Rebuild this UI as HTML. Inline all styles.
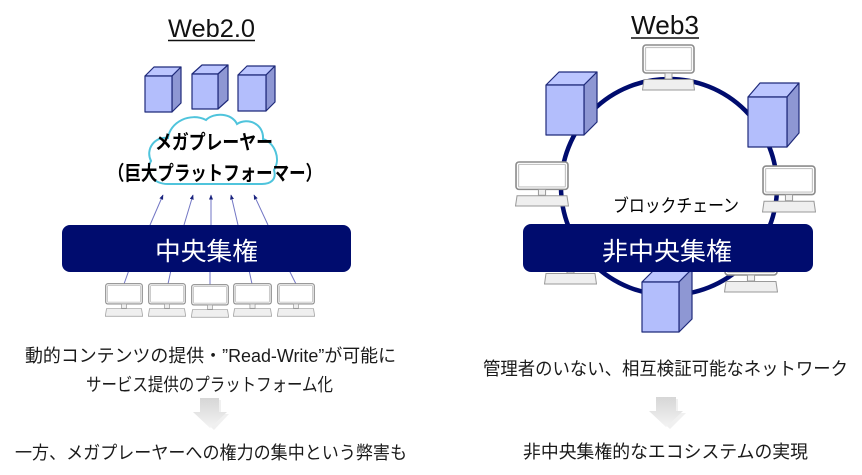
<!DOCTYPE html>
<html><head><meta charset="utf-8"><style>
html,body{margin:0;padding:0;background:#fff;}
svg{display:block;}
text{font-family:"Liberation Sans","Noto Sans CJK JP",sans-serif;}
.jp{font-family:"Liberation Sans","Noto Sans CJK JP",sans-serif;fill:#1a1a1a;}
</style></head><body>
<svg width="862" height="475" viewBox="0 0 862 475" xmlns="http://www.w3.org/2000/svg">
<defs>
<symbol id="mon" viewBox="0 0 53 47" preserveAspectRatio="none">
<rect x="1" y="1" width="51" height="28" rx="3" fill="#fff" stroke="#8c8c8c" stroke-width="1.6"/>
<rect x="3.5" y="3.5" width="46" height="23" rx="1" fill="#fff" stroke="#c4c4c4" stroke-width="1.2"/>
<rect x="23" y="29" width="7" height="6" fill="#f0f0f0" stroke="#9a9a9a" stroke-width="1"/>
<polygon points="2,35.5 51,35.5 52.5,46 0.5,46" fill="#efefef" stroke="#9a9a9a" stroke-width="1"/>
</symbol>
<marker id="ah" viewBox="0 0 10 10" refX="9" refY="5" markerWidth="5" markerHeight="5" orient="auto">
<path d="M0,1 L10,5 L0,9 Z" fill="#1a237e"/>
</marker>
<linearGradient id="ga" x1="0" y1="0" x2="0" y2="1">
<stop offset="0" stop-color="#d6d6d6"/><stop offset="1" stop-color="#f3f3f3"/>
</linearGradient>
</defs>

<!-- ========== LEFT: Web2.0 ========== -->
<text x="168" y="37" font-size="25" textLength="87" lengthAdjust="spacingAndGlyphs" fill="#111">Web2.0</text>
<line x1="168" y1="40.5" x2="255" y2="40.5" stroke="#111" stroke-width="1.5"/>

<!-- servers -->
<g stroke="#1f2a7a" stroke-width="1.2" stroke-linejoin="round">
<polygon points="145,76 154,67 181,67 172,76" fill="#bcc6ff"/>
<polygon points="172,76 181,67 181,103 172,112" fill="#8e97d3"/>
<rect x="145" y="76" width="27" height="36" fill="#b3befc"/>
<polygon points="192,74 202,65 228,65 218,74" fill="#bcc6ff"/>
<polygon points="218,74 228,65 228,100 218,109" fill="#8e97d3"/>
<rect x="192" y="74" width="26" height="35" fill="#b3befc"/>
<polygon points="238,75 247,66 275,66 266,75" fill="#bcc6ff"/>
<polygon points="266,75 275,66 275,102 266,111" fill="#8e97d3"/>
<rect x="238" y="75" width="28" height="36" fill="#b3befc"/>
</g>

<!-- cloud -->
<path d="M168 184 C152 184 145 171 151 161 C145 149 155 136 168 138 C170 122 190 112 206 120 C214 112 232 113 237 124 C248 117 264 124 263 139 C275 143 281 159 274 170 C277 180 270 184 262 184 Z" fill="#fff" stroke="#4fc4dc" stroke-width="2"/>
<text x="155" y="149" font-size="20" font-weight="bold" textLength="118" lengthAdjust="spacingAndGlyphs" fill="#000">メガプレーヤー</text>
<text x="108" y="180" font-size="20" font-weight="bold" textLength="214" lengthAdjust="spacingAndGlyphs" fill="#000">（巨大プラットフォーマー）</text>

<!-- arrows up -->
<g stroke="#7276c4" stroke-width="1" marker-end="url(#ah)">
<line x1="150" y1="225" x2="163" y2="195"/>
<line x1="184" y1="225" x2="193" y2="195"/>
<line x1="211" y1="225" x2="211" y2="195"/>
<line x1="238" y1="225" x2="231" y2="195"/>
<line x1="268" y1="225" x2="254" y2="195"/>
</g>

<!-- lines to monitors -->
<g stroke="#7276c4" stroke-width="1">
<line x1="129" y1="270" x2="124" y2="284"/>
<line x1="171" y1="270" x2="168" y2="284"/>
<line x1="210" y1="270" x2="210" y2="285"/>
<line x1="249" y1="270" x2="252" y2="284"/>
<line x1="289" y1="270" x2="296" y2="284"/>
</g>

<!-- bar -->
<rect x="62" y="225" width="289" height="47" rx="8" fill="#000c6e"/>
<text x="155" y="260" font-size="25" textLength="103" lengthAdjust="spacingAndGlyphs" fill="#fff">中央集権</text>

<!-- monitors -->
<use href="#mon" x="105" y="283" width="38" height="34"/>
<use href="#mon" x="148" y="283" width="38" height="34"/>
<use href="#mon" x="191" y="284" width="38" height="34"/>
<use href="#mon" x="233" y="283" width="39" height="34"/>
<use href="#mon" x="277" y="283" width="38" height="34"/>

<!-- texts -->
<text class="jp" x="25" y="362" font-size="18" textLength="371" lengthAdjust="spacingAndGlyphs">動的コンテンツの提供・”Read-Write”が可能に</text>
<text class="jp" x="86" y="391" font-size="18" textLength="247" lengthAdjust="spacingAndGlyphs">サービス提供のプラットフォーム化</text>
<polygon points="202,400 221,400 221,414 229,414 214,430 197,414 202,414" fill="#e6e6e6" opacity="0.6"/>
<polygon points="200,398 219,398 219,412 227,412 210,428 193,412 200,412" fill="url(#ga)"/>
<text class="jp" x="15" y="459" font-size="18" textLength="392" lengthAdjust="spacingAndGlyphs">一方、メガプレーヤーへの権力の集中という弊害も</text>

<!-- ========== RIGHT: Web3 ========== -->
<text x="631" y="34" font-size="26" textLength="68" lengthAdjust="spacingAndGlyphs" fill="#111">Web3</text>
<line x1="631" y1="38" x2="699" y2="38" stroke="#111" stroke-width="1.5"/>

<!-- ring -->
<circle cx="669" cy="187" r="108" fill="none" stroke="#000c6e" stroke-width="4.5"/>

<!-- bottom monitors & server (behind bar) -->
<use href="#mon" x="544" y="238" width="53" height="47"/>
<use href="#mon" x="724" y="246" width="54" height="47"/>
<g stroke="#1f2a7a" stroke-width="1.2" stroke-linejoin="round">
<polygon points="642,282 655,269 692,269 679,282" fill="#bcc6ff"/>
<polygon points="679,282 692,269 692,319 679,332" fill="#8e97d3"/>
<rect x="642" y="282" width="37" height="50" fill="#b3befc"/>
</g>

<!-- top/side monitors -->
<use href="#mon" x="642" y="44" width="53" height="47"/>
<use href="#mon" x="515" y="161" width="54" height="46"/>
<use href="#mon" x="762" y="165" width="54" height="48"/>

<!-- servers -->
<g stroke="#1f2a7a" stroke-width="1.2" stroke-linejoin="round">
<polygon points="546,85 559,72 597,72 584,85" fill="#bcc6ff"/>
<polygon points="584,85 597,72 597,122 584,135" fill="#8e97d3"/>
<rect x="546" y="85" width="38" height="50" fill="#b3befc"/>
<polygon points="748,97 760,83 799,83 787,97" fill="#bcc6ff"/>
<polygon points="787,97 799,83 799,133 787,147" fill="#8e97d3"/>
<rect x="748" y="97" width="39" height="50" fill="#b3befc"/>
</g>

<text x="613" y="212" font-size="18" textLength="126" lengthAdjust="spacingAndGlyphs" fill="#000">ブロックチェーン</text>

<!-- bar -->
<rect x="523" y="224" width="290" height="48" rx="8" fill="#000c6e"/>
<text x="602" y="260" font-size="25" textLength="130" lengthAdjust="spacingAndGlyphs" fill="#fff">非中央集権</text>

<!-- texts -->
<text class="jp" x="483" y="375" font-size="18" textLength="365" lengthAdjust="spacingAndGlyphs">管理者のいない、相互検証可能なネットワーク</text>
<polygon points="658,399 678,399 678,413 686,413 670,429 653,413 658,413" fill="#e6e6e6" opacity="0.6"/>
<polygon points="656,397 676,397 676,411 683,411 666,427 649,411 656,411" fill="url(#ga)"/>
<text class="jp" x="523" y="458" font-size="18" textLength="285" lengthAdjust="spacingAndGlyphs">非中央集権的なエコシステムの実現</text>
</svg>
</body></html>
